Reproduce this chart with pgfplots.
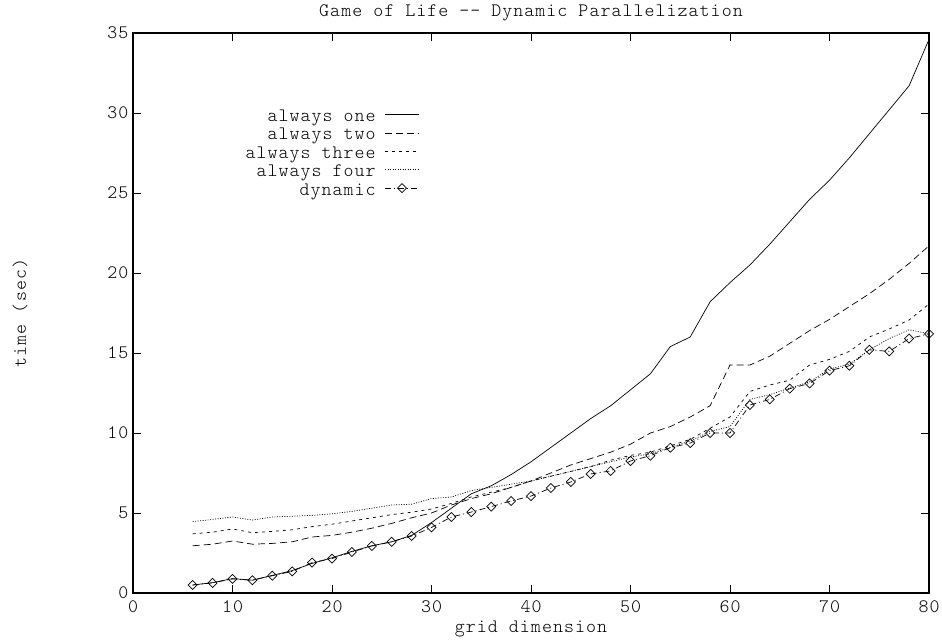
\documentclass[border=0pt]{standalone}
\usepackage{fontspec}
\setmainfont{Latin Modern Mono Light}[LetterSpace=5.5]
\usepackage{pgfplots}
\pgfplotsset{compat=1.18}
\usepackage{pgfplotstable}

% x: grid dimension, columns: one two three four dynamic
\pgfplotstableread{
x one two three four dyn
6  0.5  2.95 3.7  4.46 0.5
8  0.65 3.05 3.8  4.6  0.63
10 0.9  3.25 4.0  4.75 0.88
12 0.8  3.05 3.77 4.56 0.8
14 1.1  3.1  3.85 4.75 1.08
16 1.4  3.2  3.95 4.8  1.35
18 1.85 3.5  4.15 4.85 1.9
20 2.2  3.6  4.3  4.95 2.15
22 2.6  3.8  4.5  5.1  2.56
24 2.95 4.05 4.7  5.3  2.94
26 3.2  4.35 4.9  5.5  3.2
28 3.6  4.7  5.05 5.55 3.56
30 4.4  5.0  5.25 5.9  4.1
32 5.3  5.5  5.6  6.0  4.75
34 6.2  5.9  6.0  6.4  5.06
36 6.7  6.2  6.3  6.6  5.4
38 7.4  6.6  6.6  6.8  5.75
40 8.2  7.0  7.0  7.0  6.06
42 9.1  7.5  7.3  7.3  6.56
44 10.0 8.0  7.6  7.6  6.94
46 10.9 8.4  7.9  7.9  7.44
48 11.7 8.8  8.3  8.2  7.63
50 12.7 9.3  8.6  8.5  8.25
52 13.7 10.0 8.8  8.7  8.58
54 15.4 10.4 9.2  9.1  9.08
56 16.0 11.0 9.6  9.5  9.37
58 18.2 11.7 10.3 10.1 10.0
60 19.4 14.25 11.0 10.4 10.0
62 20.5 14.25 12.6 12.1 11.75
64 21.8 14.8 13.0 12.4 12.1
66 23.2 15.6 13.3 12.8 12.77
68 24.6 16.4 14.25 13.2 13.1
70 25.8 17.1 14.6 14.0 13.9
72 27.2 17.9 15.1 14.3 14.2
74 28.7 18.7 16.0 15.2 15.2
76 30.2 19.6 16.5 15.9 15.1
78 31.7 20.6 17.06 16.45 15.9
80 34.6 21.7 18.06 16.2 16.2
}\data

\begin{document}
\begin{tikzpicture}
\useasboundingbox (-133pt,-49pt) rectangle (809pt,593pt);
\begin{axis}[
  at={(0pt,0pt)}, anchor=south west,
  scale only axis, width=796pt, height=560pt,
  xmin=0, xmax=80, ymin=0, ymax=35,
  xtick={0,10,...,80}, ytick={0,5,...,35},
  tick align=inside, major tick length=8pt,
  xtick pos=both, ytick pos=both,
  axis line style={line width=1.1pt},
  every tick/.style={black, line width=0.8pt},
  font=\fontsize{19}{20}\selectfont,
  tick label style={font=\fontsize{19}{20}\selectfont},
  xticklabel style={yshift=-4pt},
  yticklabel style={xshift=-1pt},
  /pgf/number format/assume math mode=true,
  title={Game of Life {-}{-} Dynamic Parallelization},
  title style={at={(axis description cs:0.5,1.0196)}, anchor=base},
  xlabel={grid dimension},
  xlabel style={at={(axis description cs:0.5,-0.0714)}, anchor=base},
  ylabel={time (sec)},
  ylabel style={at={(axis description cs:-0.142,0.5)}, anchor=center, rotate=0},
  legend cell align=right,
  legend plot pos=right,
  legend style={draw=none, fill=none, at={(axis description cs:0.36,0.862)},
    anchor=north east, row sep=0pt, column sep=9pt, inner sep=0pt,
    nodes={inner sep=0pt, text height=11pt, text depth=7.3pt}},
  legend image code/.code={
    \draw[mark repeat=2, mark phase=2, #1] plot coordinates {(0pt,5pt) (17pt,5pt) (34pt,5pt)};},
  every axis plot/.append style={line width=0.7pt, black},
]
\addplot[solid] table[x=x, y=one] {\data};
\addlegendentry{always one}
\addplot[dash pattern=on 7pt off 4pt] table[x=x, y=two] {\data};
\addlegendentry{always two}
\addplot[dash pattern=on 3pt off 4pt] table[x=x, y=three] {\data};
\addlegendentry{always three}
\addplot[dash pattern=on 1pt off 1.5pt] table[x=x, y=four] {\data};
\addlegendentry{always four}
\addplot[dash pattern=on 6pt off 3pt on 1pt off 3pt, mark=square,
  mark size=3.2pt, mark options={solid, rotate=45, fill=white}] table[x=x, y=dyn] {\data};
\addlegendentry{dynamic}
\end{axis}
\end{tikzpicture}
\end{document}
